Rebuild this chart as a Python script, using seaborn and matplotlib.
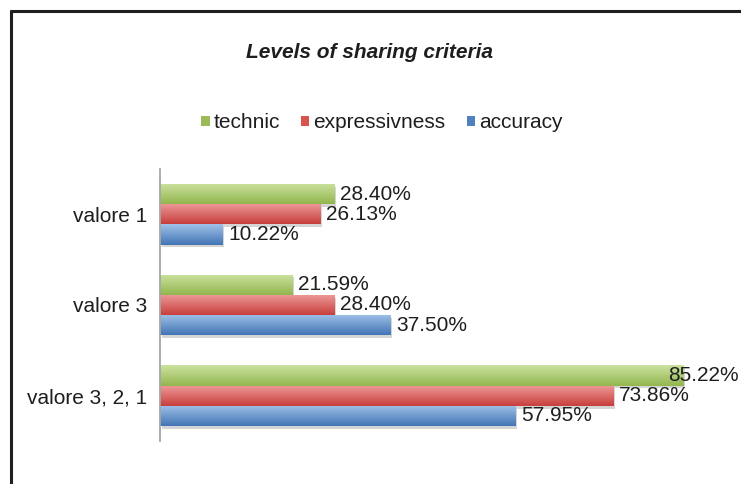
import numpy as np
import pandas as pd
import seaborn as sns
import matplotlib.pyplot as plt
import matplotlib.patheffects as pe
from matplotlib.colors import to_rgb
from matplotlib.patches import Patch
from matplotlib.lines import Line2D

# data
categories = ["valore 1", "valore 3", "valore 3, 2, 1"]
series = ["technic", "expressivness", "accuracy"]
technic = [28.40, 21.59, 85.22]
expressivness = [26.13, 28.40, 73.86]
accuracy = [10.22, 37.50, 57.95]

df = pd.DataFrame({
    "category": categories * 3,
    "series": ["technic"] * 3 + ["expressivness"] * 3 + ["accuracy"] * 3,
    "value": technic + expressivness + accuracy,
})

# base colour, light (top) and dark (bottom) of the Excel-like gradient
base = {"technic": "#9BBB59", "expressivness": "#D9534F", "accuracy": "#4F81BD"}
light = {"technic": "#CBE29F", "expressivness": "#EE9B9A", "accuracy": "#A0C1E8"}
dark = {"technic": "#92B64E", "expressivness": "#C73F3C", "accuracy": "#4375B5"}

sns.set_theme(style="white")
plt.rcParams["font.family"] = ["Liberation Sans", "DejaVu Sans"]
TEXT = "#1e1e1e"

fig = plt.figure(figsize=(7.41, 4.84), dpi=100)
ax = fig.add_axes([159.5 / 741, 1 - 441 / 484, (741 - 159.5) / 741, 272 / 484])

sns.barplot(data=df, y="category", x="value", hue="series", order=categories,
            hue_order=series, palette=base, orient="h", width=0.67,
            saturation=1, legend=False, ax=ax)

xmax = (741 - 159.5) / 6.139
ax.set_xlim(0, xmax)
ax.set_ylim(2.5, -0.5)

# gradient fill + soft shadow on each bar
for name, cont in zip(series, ax.containers):
    top = np.array(to_rgb(light[name]))
    bot = np.array(to_rgb(dark[name]))
    t = np.linspace(0, 1, 64)[:, None]
    grad = (top * (1 - t) + bot * t)[:, None, :]
    for bar in cont:
        x0, y0 = bar.get_x(), bar.get_y()
        w, h = bar.get_width(), bar.get_height()
        bar.set_edgecolor("none")
        bar.set_path_effects([pe.SimplePatchShadow(offset=(1.5, -2), shadow_rgbFace="#888888", alpha=0.35),
                              pe.Normal()])
        im = ax.imshow(grad, extent=[x0, x0 + w, y0 + h, y0], aspect="auto",
                       interpolation="bilinear", zorder=bar.get_zorder() + 0.1)
        im.set_clip_path(bar)

ax.set_xlim(0, xmax)
ax.set_ylim(2.5, -0.5)

# value labels
fig.canvas.draw()
renderer = fig.canvas.get_renderer()
ax_right = ax.get_window_extent().x1
for cont in ax.containers:
    for bar in cont:
        v = bar.get_width()
        yc = bar.get_y() + bar.get_height() / 2
        txt = ax.text(v + 1.0, yc, f"{v:.2f}%", ha="left", va="center",
                      fontsize=15, color=TEXT, zorder=5)
        if txt.get_window_extent(renderer).x1 > ax_right - 2:
            txt.set_x(xmax - 0.4)
            txt.set_ha("right")

# axes styling
for s in ["top", "right", "bottom"]:
    ax.spines[s].set_visible(False)
ax.spines["left"].set_color("#A6A6A6")
ax.spines["left"].set_linewidth(1.3)
ax.set_xticks([])
ax.set_xlabel("")
ax.set_ylabel("")
ax.tick_params(axis="y", length=0, pad=9, labelsize=15, labelcolor=TEXT)
ax.set_facecolor("white")

# title and legend
fig.text(369 / 741, 1 - 52 / 484, "Levels of sharing criteria", ha="center",
         va="center", fontsize=15, fontweight="bold", fontstyle="italic", color=TEXT)
handles = [Patch(facecolor=base[n], edgecolor="none", label=n) for n in series]
fig.legend(handles=handles, loc="center", bbox_to_anchor=(382 / 741, 1 - 123 / 484),
           ncol=3, frameon=False, fontsize=15, handlelength=0.4, handleheight=0.4,
           handletextpad=0.2, columnspacing=1.0, labelcolor=TEXT)

# outer frame (left and top edges visible in the crop)
fx = 10.5 / 741
fy = 1 - 11 / 484
fig.add_artist(Line2D([fx, fx], [0, fy], transform=fig.transFigure, color="#1f1f1f", lw=2.2))
fig.add_artist(Line2D([fx, 1], [fy, fy], transform=fig.transFigure, color="#1f1f1f", lw=2.2))

fig.savefig("out.png", dpi=100, facecolor="white")
